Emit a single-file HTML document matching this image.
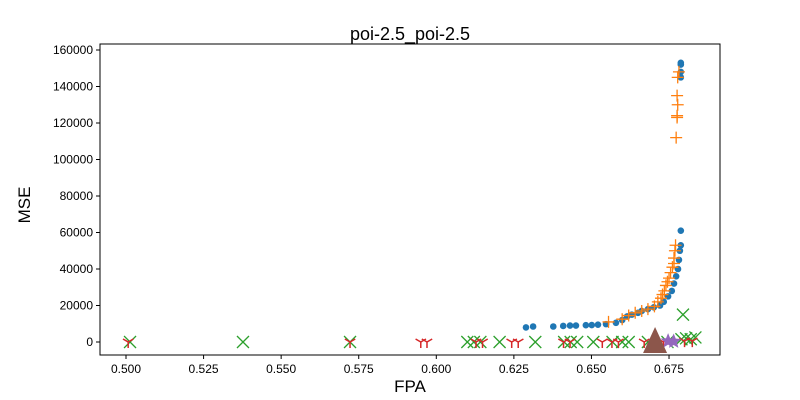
<!DOCTYPE html>
<html><head><meta charset="utf-8"><style>body{margin:0;background:#fff}svg{display:block;font-family:"Liberation Sans",sans-serif}</style></head>
<body>
<svg id="c" width="800" height="400"></svg>
<script>
const blueX=[0.6289,0.6312,0.6377,0.6409,0.6431,0.6450,0.6482,0.6501,0.6521,0.6547,0.6579,0.6599,0.6615,0.6630,0.6650,0.6662,0.6682,0.6701,0.6721,0.6733,0.6747,0.6759,0.6766,0.6773,0.6779,0.6782,0.6785,0.6788,0.6788,0.6788,0.6788,0.6788,0.6788];
const blueY=[8000,8500,8500,8800,9000,9000,9200,9300,9500,9800,10500,12000,14000,15000,16000,17000,18000,19000,20000,22000,25000,28000,32000,36000,40000,45000,50000,53000,61000,145000,148000,152000,153000];
const orangeX=[0.6555,0.6599,0.6620,0.6641,0.6662,0.6682,0.6703,0.6714,0.6724,0.6729,0.6735,0.6740,0.6745,0.6750,0.6755,0.6761,0.6766,0.6766,0.6769,0.6771,0.6773,0.6776,0.6776,0.6778,0.6776,0.6778,0.6782];
const orangeY=[11000,12500,14500,16000,17000,18000,19500,22000,24000,26000,28000,31000,33000,35000,38000,41000,43000,46000,50000,53000,112000,123000,124000,130000,135000,145000,148000];
const greenX=[0.5013,0.5377,0.5722,0.6100,0.6121,0.6142,0.6204,0.6319,0.6412,0.6433,0.6454,0.6506,0.6568,0.6599,0.6620,0.6682,0.6745,0.6790,0.6805,0.6820,0.6835,0.6795];
const greenY=[0,0,0,0,0,0,0,0,0,0,0,0,0,0,0,0,0,1500,2000,1500,2500,15000];
const redX=[0.5007,0.5722,0.5950,0.5970,0.6128,0.6149,0.6243,0.6264,0.6410,0.6431,0.6535,0.6566,0.6587,0.6670,0.6732,0.6800,0.6825];
const redY=[0,0,0,0,0,0,0,0,0,0,0,0,0,0,0,500,500];
const purpleX=[0.6747,0.6765];
const purpleY=[500,300];
const brownX=[0.6705];
const brownY=[0];
const xTicks=[0.500,0.525,0.550,0.575,0.600,0.625,0.650,0.675];
const yTicks=[0,20000,40000,60000,80000,100000,120000,140000,160000];
const NS="http://www.w3.org/2000/svg";
const svg=document.getElementById('c');
const L=100,R=720,T=40,B=355;
const sx=v=>126+(v-0.5)*3103;
const sy=v=>342-v*292/160000;
function mk(t,a,p){const e=document.createElementNS(NS,t);for(const k in a)e.setAttribute(k,a[k]);(p||svg).appendChild(e);return e;}
const title=mk('text',{x:410,y:40,'text-anchor':'middle','font-size':18});title.textContent='poi-2.5_poi-2.5';


const g=mk('g',{});


function pt(kind,x,y,name){
 const X=sx(x),Y=sy(y);let e;
 if(kind==='o'){e=mk('circle',{cx:X,cy:Y,r:3.3,fill:'#1f77b4'},g);}
 else if(kind==='+'){e=mk('path',{d:`M${X-6} ${Y}H${X+6}M${X} ${Y-6}V${Y+6}`,stroke:'#ff7f0e','stroke-width':1.3,fill:'none'},g);}
 else if(kind==='x'){e=mk('path',{d:`M${X-6} ${Y-6}L${X+6} ${Y+6}M${X-6} ${Y+6}L${X+6} ${Y-6}`,stroke:'#2ca02c','stroke-width':1.3,fill:'none'},g);}
 else if(kind==='1'){e=mk('path',{d:`M${X} ${Y}V${Y+6}M${X} ${Y}L${X-5.2} ${Y-3}M${X} ${Y}L${X+5.2} ${Y-3}`,stroke:'#d62728','stroke-width':1.5,fill:'none'},g);}
 else if(kind==='*'){let d='';for(let i=0;i<10;i++){const r=i%2?3.5:8,a=-Math.PI/2+i*Math.PI/5;d+=(i?'L':'M')+(X+r*Math.cos(a))+' '+(Y+r*Math.sin(a));}e=mk('path',{d:d+'Z',fill:'#9467bd'},g);}
 else {e=mk('path',{d:`M${X} ${Y-15}L${X+12} ${Y+11}L${X-12} ${Y+11}Z`,fill:'#8c564b'},g);}
 
 
}
blueX.forEach((v,i)=>pt('o',v,blueY[i],'blue-point'));
orangeX.forEach((v,i)=>pt('+',v,orangeY[i],'orange-point'));
greenX.forEach((v,i)=>pt('x',v,greenY[i],'green-point'));
redX.forEach((v,i)=>pt('1',v,redY[i],'red-point'));
purpleX.forEach((v,i)=>pt('*',v,purpleY[i],'purple-point'));
brownX.forEach((v,i)=>pt('^',v,brownY[i],'brown-point'));
const fr=mk('rect',{x:L,y:T+4,width:R-L,height:B-T-4,fill:'none',stroke:'#000','stroke-width':1});


xTicks.forEach(v=>{const X=sx(v);mk('line',{x1:X,x2:X,y1:B,y2:B+4,stroke:'#000'});const t=mk('text',{x:X,y:B+18,'text-anchor':'middle','font-size':12});t.textContent=v.toFixed(3);

});
yTicks.forEach(v=>{const Y=sy(v);mk('line',{x1:L-4,x2:L,y1:Y,y2:Y,stroke:'#000'});const t=mk('text',{x:L-7,y:Y+4,'text-anchor':'end','font-size':12});t.textContent=v;

});
const xl=mk('text',{x:410,y:392,'text-anchor':'middle','font-size':17});xl.textContent='FPA';


const yl=mk('text',{x:30,y:205,'text-anchor':'middle','font-size':17,transform:'rotate(-90 30 205)'});yl.textContent='MSE';


</script>
</body></html>
